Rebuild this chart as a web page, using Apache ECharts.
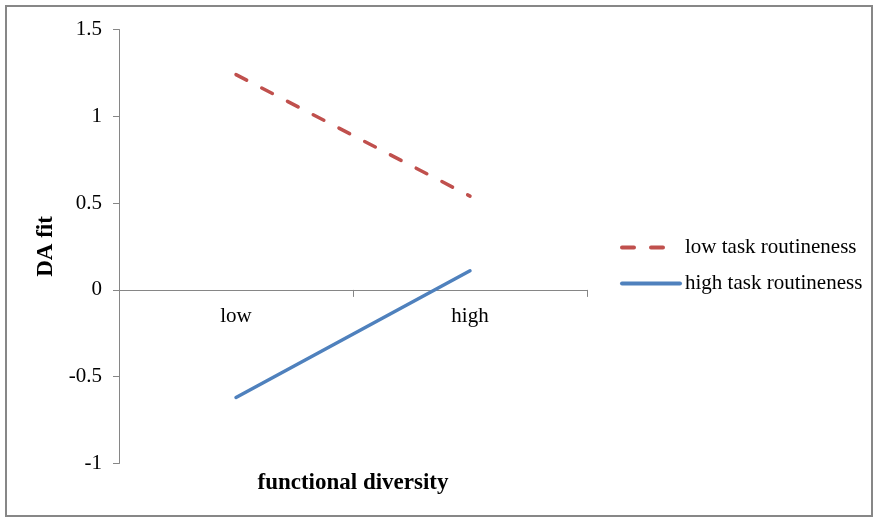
<!DOCTYPE html>
<html>
<head>
<meta charset="utf-8">
<script src="https://cdn.jsdelivr.net/npm/echarts@6/dist/echarts.min.js"></script>
<style>
  html, body { margin: 0; padding: 0; background: #fff; }
  #chart { width: 877px; height: 520px; }
</style>
</head>
<body>
<div id="chart"></div>
<script>
// data
const categories = ['low', 'high'];
const lowRoutine = [1.24, 0.54];
const highRoutine = [-0.62, 0.11];
const yTicks = { min: -1, max: 1.5, interval: 0.5 };

const font = '"Liberation Serif", "Times New Roman", serif';
const axisGray = '#868686';

const chart = echarts.init(document.getElementById('chart'));

chart.setOption({
    animation: false,
    backgroundColor: '#fff',
    textStyle: { fontFamily: font, color: '#000' },
    graphic: [{
        type: 'rect',
        shape: { x: 6, y: 6, width: 866, height: 510 },
        style: { fill: 'none', stroke: '#878787', lineWidth: 2 },
        silent: true
    }],
    grid: { left: 119, right: 290, top: 29.5, bottom: 56.5, outerBoundsMode: 'none', containLabel: false },
    legend: {
        orient: 'vertical',
        left: 615,
        top: 232,
        itemWidth: 58,
        itemHeight: 12,
        itemGap: 15,
        itemStyle: { opacity: 0 },
        lineStyle: { width: 4 },
        textStyle: { fontFamily: font, fontSize: 21, color: '#000' },
        data: ['low task routineness', 'high task routineness']
    },
    xAxis: {
        type: 'category',
        data: categories,
        boundaryGap: true,
        name: 'functional diversity',
        nameLocation: 'middle',
        nameGap: 8,
        nameTextStyle: { fontFamily: font, fontSize: 23, fontWeight: 'bold', color: '#000' },
        axisLine: { onZero: true, lineStyle: { color: axisGray, width: 1 } },
        axisTick: { show: true, length: 7, inside: false, lineStyle: { color: axisGray } },
        // labels sit under the zero line, not at the grid bottom
        axisLabel: { fontFamily: font, fontSize: 21, color: '#000', margin: -158 },
        splitLine: { show: false }
    },
    yAxis: {
        type: 'value',
        min: yTicks.min,
        max: yTicks.max,
        interval: yTicks.interval,
        name: 'DA fit',
        nameLocation: 'middle',
        nameGap: 57,
        nameTextStyle: { fontFamily: font, fontSize: 23, fontWeight: 'bold', color: '#000' },
        axisLine: { show: true, lineStyle: { color: axisGray, width: 1 } },
        axisTick: { show: true, length: 6, lineStyle: { color: axisGray } },
        axisLabel: { fontFamily: font, fontSize: 21, color: '#000', margin: 17 },
        splitLine: { show: false }
    },
    series: [{
        name: 'low task routineness',
        type: 'line',
        data: lowRoutine,
        symbol: 'none',
        itemStyle: { color: '#C0504D' },
        lineStyle: { color: '#C0504D', width: 3.5, type: [12, 17], cap: 'round' }
    }, {
        name: 'high task routineness',
        type: 'line',
        data: highRoutine,
        symbol: 'none',
        itemStyle: { color: '#4F81BD' },
        lineStyle: { color: '#4F81BD', width: 3.5, type: 'solid', cap: 'round' }
    }]
});
</script>
</body>
</html>
